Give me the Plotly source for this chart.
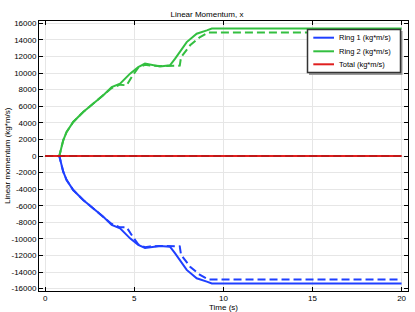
import plotly.graph_objects as go

# Time (s) and momentum (kg*m/s) values
t_r2 = [0, 0.75, 0.79, 1.01, 1.2, 1.57, 2.13, 2.7, 3.26, 3.73, 4.2, 4.76, 5.22, 5.6, 5.88, 6.44, 7.0, 7.29, 7.94, 8.5, 9.07, 9.35, 20]
ring2 = [0, 0, 0, 1890, 2900, 4100, 5300, 6320, 7320, 8320, 8730, 9930, 10730, 11140, 11000, 10800, 10930, 11740, 13740, 14750, 15150, 15380, 15380]

t_r2d = [0, 0.75, 0.79, 1.01, 1.2, 1.57, 2.13, 2.7, 3.26, 3.73, 4.2, 4.57, 4.9, 5.22, 5.6, 5.88, 6.44, 7.0, 7.55, 7.62, 8.13, 8.69, 9.16, 20]
ring2_d = [0, 0, 0, 1890, 2900, 4100, 5300, 6320, 7320, 8200, 8600, 8520, 9700, 10650, 11000, 10900, 10850, 10900, 10900, 11900, 13350, 14350, 14900, 14900]

t_r1 = [0, 0.75, 0.79, 1.01, 1.2, 1.57, 2.13, 2.7, 3.26, 3.73, 4.2, 4.76, 5.22, 5.6, 5.88, 6.44, 7.0, 7.29, 7.94, 8.5, 9.07, 9.35, 20]
ring1 = [0, 0, 0, -1890, -2900, -4100, -5300, -6320, -7320, -8320, -8730, -9930, -10730, -11090, -11000, -10850, -10930, -11740, -13740, -14750, -15150, -15380, -15380]

t_r1d = [0, 0.75, 0.79, 1.01, 1.2, 1.57, 2.13, 2.7, 3.26, 3.73, 4.2, 4.57, 4.9, 5.22, 5.6, 5.88, 6.44, 7.0, 7.55, 7.62, 8.13, 8.69, 9.16, 20]
ring1_d = [0, 0, 0, -1890, -2900, -4100, -5300, -6320, -7320, -8200, -8600, -8600, -9700, -10650, -11000, -10900, -10850, -10900, -10900, -11900, -13350, -14350, -14900, -14900]

t_tot = [0, 20]
total = [0, 0]

y_ticks = list(range(-16000, 16001, 2000))
y_labels = [str(v) for v in y_ticks]
x_ticks = [0, 5, 10, 15, 20]

legend_names = ["Ring 1 (kg*m/s)", "Ring 2 (kg*m/s)", "Total (kg*m/s)"]

BLUE = "#1f3fff"
GREEN = "#33bf40"
RED = "#e01f1f"
legend_colors = [BLUE, GREEN, RED]

FONT = "Liberation Sans, Arial, sans-serif"
W, H = 415, 312
ML, MR, MT, MB = 39, 7, 21, 21
PW, PH = W - ML - MR, H - MT - MB


def px(x):
    return (x - ML) / PW


def py(y):
    return (H - MB - y) / PH


fig = go.Figure()
fig.add_trace(go.Scatter(x=t_r1, y=ring1, mode="lines", name=legend_names[0],
                         line=dict(color=BLUE, width=2)))
fig.add_trace(go.Scatter(x=t_r2, y=ring2, mode="lines", name=legend_names[1],
                         line=dict(color=GREEN, width=2)))
fig.add_trace(go.Scatter(x=t_r1d, y=ring1_d, mode="lines", showlegend=False,
                         line=dict(color=BLUE, width=2, dash="8px,4px")))
fig.add_trace(go.Scatter(x=t_r2d, y=ring2_d, mode="lines", showlegend=False,
                         line=dict(color=GREEN, width=2, dash="8px,4px")))
fig.add_trace(go.Scatter(x=t_tot, y=total, mode="lines", name=legend_names[2],
                         line=dict(color=RED, width=2)))
fig.add_trace(go.Scatter(x=t_tot, y=total, mode="lines", showlegend=False,
                         line=dict(color="#c01818", width=2, dash="8px,4px")))

# legend box drawn by hand to match compact spacing
shapes = [
    dict(type="rect", xref="paper", yref="paper", x0=px(309), x1=px(402.5), y0=py(75), y1=py(31),
         fillcolor="#9a9a9a", line=dict(width=0), layer="above"),
    dict(type="rect", xref="paper", yref="paper", x0=px(307.5), x1=px(400.5), y0=py(72.5), y1=py(29.5),
         fillcolor="white", line=dict(color="#333333", width=1.5), layer="above"),
]
annotations = []
rows = [37.7, 51.3, 64.3]
for name, col, ry in zip(legend_names, legend_colors, rows):
    shapes.append(dict(type="line", xref="paper", yref="paper", x0=px(313.3), x1=px(334),
                       y0=py(ry), y1=py(ry), line=dict(color=col, width=2), layer="above"))
    annotations.append(dict(text=name, xref="paper", yref="paper", x=px(336.5), y=py(ry),
                            xanchor="left", yanchor="middle", showarrow=False,
                            font=dict(size=7.5, color="black")))

annotations.append(dict(text="Time (s)", xref="paper", yref="paper", x=px(224), y=py(307),
                        xanchor="center", yanchor="middle", showarrow=False,
                        font=dict(size=8, color="black")))
annotations.append(dict(text="Linear momentum (kg*m/s)", xref="paper", yref="paper", x=px(7),
                        y=0.5, xanchor="center", yanchor="middle", textangle=-90,
                        showarrow=False, font=dict(size=8, color="black")))

fig.update_layout(
    width=W, height=H,
    margin=dict(l=ML, r=MR, t=MT, b=MB, autoexpand=False),
    paper_bgcolor="white", plot_bgcolor="white",
    font=dict(family=FONT, size=8, color="black"),
    title=dict(text="Linear Momentum, x", x=px(223), xanchor="center", y=1 - 14.5 / H,
               yanchor="middle", font=dict(size=8)),
    showlegend=False,
    shapes=shapes,
    annotations=annotations,
)
fig.update_xaxes(
    range=[-0.35, 20.36], tickvals=x_ticks, ticktext=[str(v) for v in x_ticks],
    ticks="inside", ticklen=4, tickcolor="black", showline=True, linecolor="black",
    linewidth=1, mirror="ticks", showgrid=True, gridcolor="#e6e6e6", zeroline=False,
    automargin=False, tickfont=dict(size=8), ticklabelstandoff=-1,
)
fig.update_yaxes(
    range=[-16280, 16280], tickvals=y_ticks, ticktext=y_labels,
    ticks="inside", ticklen=4, tickcolor="black", showline=True, linecolor="black",
    linewidth=1, mirror="ticks", showgrid=True, gridcolor="#e6e6e6", zeroline=False,
    automargin=False, tickfont=dict(size=8),
)
fig.write_html("out.html")
